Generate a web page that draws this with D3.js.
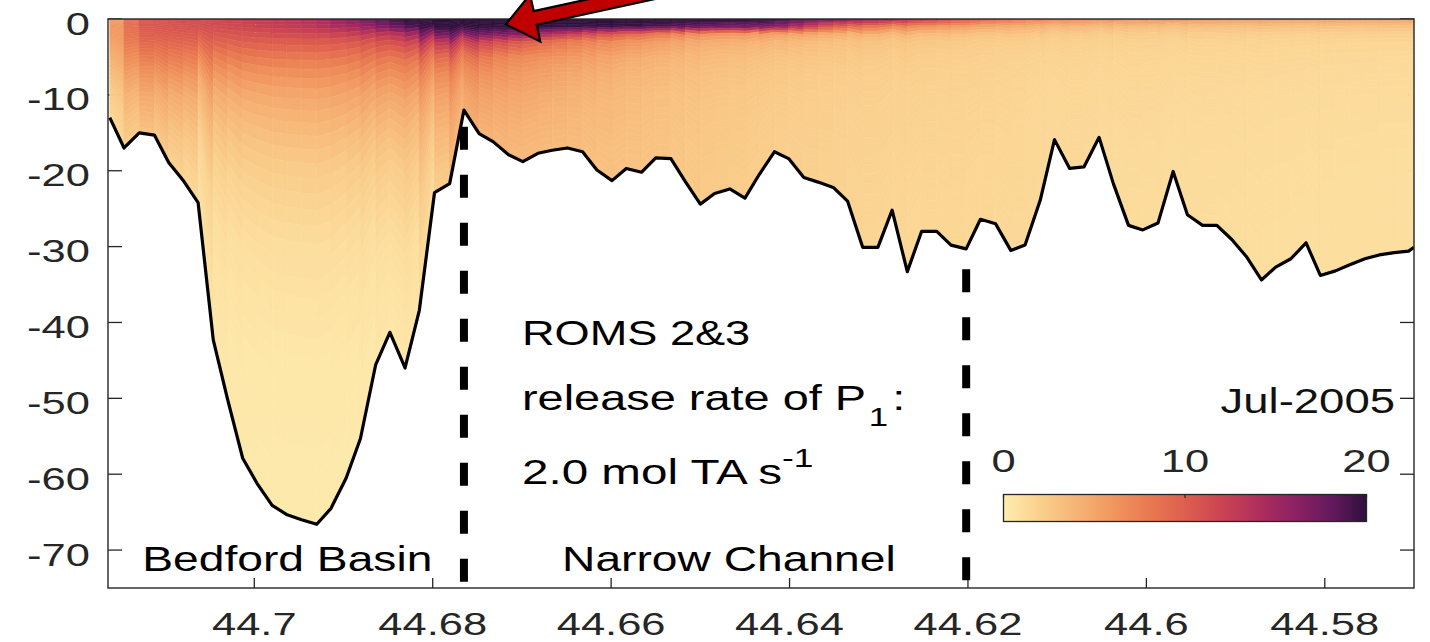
<!DOCTYPE html>
<html><head><meta charset="utf-8">
<script src="https://cdn.jsdelivr.net/npm/d3@7"></script>
<style>
html,body{margin:0;padding:0;background:#fff;}
svg{display:block;font-family:"Liberation Sans",Arial,Helvetica,sans-serif;}
</style></head><body>
<svg id="chart" width="1430" height="642"></svg>
<script>
// Section nodes along the transect: latitude (deg N) and bottom depth (m)
const sectionLat = [
  44.7162,44.7146,44.7129,44.7112,44.7096,44.7079,44.7063,44.7046,44.7030,44.7013,
  44.6997,44.6980,44.6964,44.6947,44.6930,44.6914,44.6897,44.6881,44.6864,44.6848,
  44.6831,44.6815,44.6798,44.6781,44.6765,44.6748,44.6732,44.6715,44.6699,44.6682,
  44.6666,44.6649,44.6632,44.6616,44.6599,44.6583,44.6566,44.6550,44.6533,44.6517,
  44.6500,44.6484,44.6467,44.6450,44.6434,44.6417,44.6401,44.6384,44.6368,44.6351,
  44.6335,44.6318,44.6301,44.6285,44.6268,44.6252,44.6235,44.6219,44.6202,44.6186,
  44.6169,44.6152,44.6136,44.6119,44.6103,44.6086,44.6070,44.6053,44.6037,44.6020,
  44.6004,44.5987,44.5970,44.5954,44.5937,44.5921,44.5904,44.5888,44.5871,44.5855,
  44.5838,44.5821,44.5805,44.5788,44.5772,44.5755,44.5739,44.5722,44.5706,44.5700
];
const bottomDepth = [
  -13.0,-17.0,-15.0,-15.3,-18.9,-21.4,-24.2,-42.3,-50.1,-57.9,
  -61.2,-64.1,-65.3,-66.0,-66.6,-64.5,-60.5,-55.3,-45.6,-41.3,
  -46.0,-38.4,-22.9,-21.7,-12.0,-15.1,-16.2,-17.9,-18.8,-17.7,
  -17.3,-17.0,-17.5,-19.9,-21.3,-19.7,-20.2,-18.3,-18.4,-21.4,
  -24.4,-23.0,-22.4,-23.6,-20.5,-17.5,-18.4,-20.9,-21.5,-22.2,
  -24.0,-30.1,-30.1,-25.2,-33.3,-28.0,-28.0,-29.8,-30.3,-26.4,
  -27.0,-30.5,-29.8,-23.9,-15.9,-19.7,-19.5,-15.6,-21.7,-27.2,
  -27.8,-26.9,-20.1,-25.8,-27.2,-27.2,-29.1,-31.3,-34.4,-32.7,
  -31.6,-29.5,-33.8,-33.2,-32.4,-31.6,-31.1,-30.8,-30.6,-30.1
];

// Concentration profiles at stations along the section
const stationLat = [
  44.7162,44.7129,44.7096,44.7046,44.6997,44.6930,44.6881,44.6831,44.6798,44.6765,
  44.6715,44.6649,44.6566,44.6500,44.6417,44.6351,44.6301,44.6252,44.6186,44.6119,
  44.6037,44.5937,44.5821,44.5700
];
const profileDepth = [0,-1,-2,-3,-5,-7,-10,-15,-20,-30,-45,-70];
const profiles = [
  [ 4.0, 4.5, 4.5, 4.2, 3.5, 2.8, 1.8, 1.0, 0.6, 0.4, 0.3, 0.3],
  [10.5,10.2, 9.8, 9.2, 7.8, 6.4, 4.8, 3.0, 1.8, 0.9, 0.4, 0.3],
  [11.0,10.7,10.2, 9.5, 8.0, 6.5, 4.7, 3.0, 1.8, 0.9, 0.4, 0.3],
  [11.5,11.2,10.5, 9.6, 7.8, 6.2, 4.5, 2.9, 1.8, 0.9, 0.4, 0.2],
  [12.5,12.0,11.0,10.0, 8.0, 6.4, 4.7, 3.2, 2.1, 1.0, 0.4, 0.2],
  [14.0,13.2,11.8,10.3, 8.2, 6.6, 5.0, 3.5, 2.3, 1.1, 0.4, 0.2],
  [17.0,15.0,12.5,10.5, 8.3, 6.6, 5.0, 3.4, 2.2, 1.0, 0.4, 0.2],
  [20.0,18.5,14.0,11.5, 8.5, 6.8, 5.0, 3.4, 2.2, 1.0, 0.4, 0.2],
  [20.0,20.0,17.5,13.0, 9.0, 7.0, 5.2, 3.5, 2.4, 1.2, 0.5, 0.3],
  [20.0,20.0,17.5,13.0, 9.0, 7.0, 5.5, 4.2, 3.1, 2.0, 1.5, 1.5],
  [20.0,20.0,17.0,11.0, 7.2, 6.0, 5.0, 4.1, 3.5, 3.0, 3.0, 3.0],
  [20.0,20.0,13.0, 8.0, 6.0, 5.0, 4.2, 3.6, 3.2, 3.0, 3.0, 3.0],
  [20.0,19.5, 9.0, 6.0, 4.5, 3.8, 3.4, 3.1, 2.9, 2.7, 2.7, 2.7],
  [20.0,18.0, 6.5, 4.6, 3.6, 3.2, 2.9, 2.7, 2.5, 2.4, 2.4, 2.4],
  [20.0,17.0, 5.5, 3.9, 3.0, 2.6, 2.4, 2.2, 2.1, 2.0, 2.0, 2.0],
  [17.0,10.0, 4.5, 3.2, 2.6, 2.3, 2.1, 2.0, 1.9, 1.8, 1.8, 1.8],
  [16.0, 8.0, 4.0, 2.9, 2.4, 2.1, 2.0, 1.9, 1.8, 1.6, 1.6, 1.6],
  [13.5, 6.5, 3.5, 2.6, 2.2, 2.0, 1.9, 1.8, 1.7, 1.5, 1.5, 1.5],
  [10.0, 5.0, 3.0, 2.3, 2.0, 1.9, 1.8, 1.7, 1.6, 1.5, 1.5, 1.5],
  [ 7.5, 4.0, 2.6, 2.1, 1.8, 1.7, 1.6, 1.5, 1.5, 1.4, 1.4, 1.4],
  [ 6.5, 3.5, 2.3, 1.9, 1.7, 1.6, 1.5, 1.4, 1.3, 1.2, 1.2, 1.2],
  [ 6.0, 3.2, 2.2, 1.8, 1.6, 1.5, 1.4, 1.3, 1.2, 1.1, 1.1, 1.1],
  [ 5.5, 3.0, 2.0, 1.7, 1.5, 1.4, 1.3, 1.2, 1.1, 1.0, 1.0, 1.0],
  [ 5.5, 3.0, 2.0, 1.6, 1.4, 1.3, 1.2, 1.1, 1.0, 1.0, 1.0, 1.0]
];

// Axis ticks
const xTicks = [44.7, 44.68, 44.66, 44.64, 44.62, 44.6, 44.58];
const yTicks = [-70, -60, -50, -40, -30, -20, -10, 0];
const colorTicks = [0, 10, 20];

// Region boundaries (latitude, depth where the marker starts)
const dividerLat = [44.6765, 44.6202];
const dividerTop = [-14.2, -33.0];

// Region names
const regionNames = ["Bedford Basin", "Narrow Channel"];
const regionNameLat = [44.6963, 44.6468];

// Colour map (cmocean "matter")
const cmapValues = [0, 2, 4, 6, 8, 10, 12, 14, 16, 18, 20];
const cmapColors = ["#feedb0","#fad08e","#f6b475","#f1975f","#e97a51","#dd5e4e",
                    "#cb4452","#b02f5c","#8e2163","#661a5e","#2f0f3d"];

// Release point marker
const arrowTip = {lat: 44.6718, depth: -0.7};
const arrowDir = {lat: 44.6593, depth: 2.5};

(function draw() {
  const svg = d3.select("#chart");
  const W = 1430, H = 642;
  const pL = 108, pR = 1414, pT = 19, pB = 588;

  const x = d3.scaleLinear().domain([44.7164, 44.5700]).range([pL, pR]);
  const y = d3.scaleLinear().domain([-75, 0]).range([pB, pT]);
  const color = d3.scaleLinear().domain(cmapValues).range(cmapColors)
    .interpolate(d3.interpolateRgb).clamp(true);

  const axisColor = "#262626";
  const sx = 1.36; // horizontal glyph stretch of the figure

  svg.append("rect").attr("width", W).attr("height", H).attr("fill", "#fff");
  const defs = svg.append("defs");
  defs.append("clipPath").attr("id", "plot")
    .append("rect").attr("x", pL).attr("y", pT)
    .attr("width", pR - pL).attr("height", pB - pT);

  // inward ticks (drawn below the field)
  const ticks = svg.append("g").attr("stroke", axisColor).attr("stroke-width", 1.3);
  yTicks.forEach(v => {
    ticks.append("line").attr("x1", pL).attr("x2", pL + 14).attr("y1", y(v)).attr("y2", y(v));
    ticks.append("line").attr("x1", pR).attr("x2", pR - 14).attr("y1", y(v)).attr("y2", y(v));
  });
  xTicks.forEach(v => {
    ticks.append("line").attr("x1", x(v)).attr("x2", x(v)).attr("y1", pB).attr("y2", pB - 10);
    ticks.append("line").attr("x1", x(v)).attr("x2", x(v)).attr("y1", pT).attr("y2", pT + 10);
  });

  // concentration field on terrain-following layers
  function fieldAt(lat, z) {
    let j = 0;
    while (j < stationLat.length - 2 && lat < stationLat[j + 1]) j++;
    let t = (lat - stationLat[j]) / (stationLat[j + 1] - stationLat[j]);
    t = Math.max(0, Math.min(1, t));
    let m = 0;
    while (m < profileDepth.length - 2 && z < profileDepth[m + 1]) m++;
    let u = (z - profileDepth[m]) / (profileDepth[m + 1] - profileDepth[m]);
    u = Math.max(0, Math.min(1, u));
    const a = profiles[j][m] * (1 - u) + profiles[j][m + 1] * u;
    const b = profiles[j + 1][m] * (1 - u) + profiles[j + 1][m + 1] * u;
    return a * (1 - t) + b * t;
  }

  const nLayers = 36;
  const sFrac = d3.range(nLayers + 1).map(k => Math.pow(k / nLayers, 1.8));
  const cells = [];
  for (let i = 0; i < sectionLat.length - 1; i++) {
    for (let k = 0; k < nLayers; k++) {
      const z = [sFrac[k] * bottomDepth[i], sFrac[k] * bottomDepth[i + 1],
                 sFrac[k + 1] * bottomDepth[i + 1], sFrac[k + 1] * bottomDepth[i]];
      const pts = [[x(sectionLat[i]), y(z[0])], [x(sectionLat[i + 1]), y(z[1])],
                   [x(sectionLat[i + 1]), y(z[2])], [x(sectionLat[i]), y(z[3])]];
      const v = fieldAt((sectionLat[i] + sectionLat[i + 1]) / 2, d3.mean(z));
      cells.push({pts, v});
    }
  }
  const fieldG = svg.append("g").attr("clip-path", "url(#plot)");
  fieldG.selectAll("path.cell").data(cells).join("path")
    .attr("class", "cell")
    .attr("d", d => "M" + d.pts.map(p => p.join(",")).join("L") + "Z")
    .attr("fill", d => color(d.v))
    .attr("stroke", d => color(d.v))
    .attr("stroke-width", 0.6);

  // bottom line
  const bottomLine = d3.line().x((d, i) => x(sectionLat[i])).y(d => y(d));
  fieldG.append("path").datum(bottomDepth)
    .attr("d", bottomLine)
    .attr("fill", "none").attr("stroke", "#000").attr("stroke-width", 3.2)
    .attr("stroke-linejoin", "round");

  // region dividers
  dividerLat.forEach((lat, i) => {
    svg.append("line")
      .attr("x1", x(lat)).attr("x2", x(lat))
      .attr("y1", y(dividerTop[i])).attr("y2", pB)
      .attr("stroke", "#000").attr("stroke-width", 8)
      .attr("stroke-dasharray", "23,25");
  });

  // axes box
  svg.append("rect").attr("x", pL).attr("y", pT)
    .attr("width", pR - pL).attr("height", pB - pT)
    .attr("fill", "none").attr("stroke", axisColor).attr("stroke-width", 1.4);

  // tick labels
  function stretchedText(g, px, py, str, anchor, size, fill, k) {
    return g.append("g").attr("transform", `translate(${px},${py}) scale(${k || sx},1)`)
      .append("text").attr("text-anchor", anchor).attr("font-size", size)
      .attr("fill", fill).text(str);
  }
  const lab = svg.append("g");
  yTicks.forEach(v => stretchedText(lab, 90, y(v) + 15.5, String(v), "end", 32, axisColor));
  xTicks.forEach(v => stretchedText(lab, x(v), 635, String(v), "middle", 32, axisColor));

  // region names
  regionNames.forEach((name, i) => {
    stretchedText(svg, x(regionNameLat[i]), 571, name, "middle", 35, "#000", 1.32);
  });

  // release annotation
  function noteLine(py, k) {
    return svg.append("g").attr("transform", `translate(522,${py}) scale(${k},1)`)
      .append("text").attr("font-size", 35).attr("fill", "#000");
  }
  noteLine(345, 1.29).text("ROMS 2&3");
  const l2 = noteLine(410, 1.34);
  l2.append("tspan").text("release rate of P");
  l2.append("tspan").attr("font-size", 26).attr("dx", 2).attr("dy", 16).text("1");
  l2.append("tspan").attr("dx", 3).attr("dy", -16).text(":");
  const l3 = noteLine(484, 1.36);
  l3.append("tspan").text("2.0 mol TA s");
  l3.append("tspan").attr("font-size", 26).attr("dy", -17).text("-1");

  // month label
  stretchedText(svg, 1395, 413, "Jul-2005", "end", 35, "#111", 1.3);

  // colour bar
  const cbX = d3.scaleLinear().domain([0, 20]).range([1003.5, 1366.5]);
  const grad = defs.append("linearGradient").attr("id", "cbgrad")
    .attr("x1", "0%").attr("x2", "100%");
  cmapValues.forEach((v, i) => {
    grad.append("stop").attr("offset", (v / 20 * 100) + "%").attr("stop-color", cmapColors[i]);
  });
  svg.append("rect").attr("x", cbX(0)).attr("y", 494.5)
    .attr("width", cbX(20) - cbX(0)).attr("height", 27)
    .attr("fill", "url(#cbgrad)").attr("stroke", axisColor).attr("stroke-width", 1.3);
  colorTicks.forEach(v => {
    svg.append("line").attr("x1", cbX(v)).attr("x2", cbX(v)).attr("y1", 494.5).attr("y2", 498)
      .attr("stroke", axisColor).attr("stroke-width", 1.2);
    stretchedText(svg, cbX(v), 471.5, String(v), "middle", 32, axisColor);
  });

  // release arrow
  const tip = [x(arrowTip.lat), y(arrowTip.depth)];
  const toward = [x(arrowDir.lat), y(arrowDir.depth)];
  const len = Math.hypot(toward[0] - tip[0], toward[1] - tip[1]);
  const ux = (toward[0] - tip[0]) / len, uy = (toward[1] - tip[1]) / len;
  const nx = -uy, ny = ux;
  const headL = 30, headW = 24, shaftW = 7, shaftL = 400;
  const P = (a, b) => [tip[0] + ux * a + nx * b, tip[1] + uy * a + ny * b];
  const arrowPts = [P(0, 0), P(headL, headW), P(headL, shaftW), P(shaftL, shaftW),
                    P(shaftL, -shaftW), P(headL, -shaftW), P(headL, -headW)];
  svg.append("path")
    .attr("d", "M" + arrowPts.map(p => p.join(",")).join("L") + "Z")
    .attr("fill", "#c00000").attr("stroke", "#000").attr("stroke-width", 2.2)
    .attr("stroke-linejoin", "miter");
})();
</script>
</body></html>
